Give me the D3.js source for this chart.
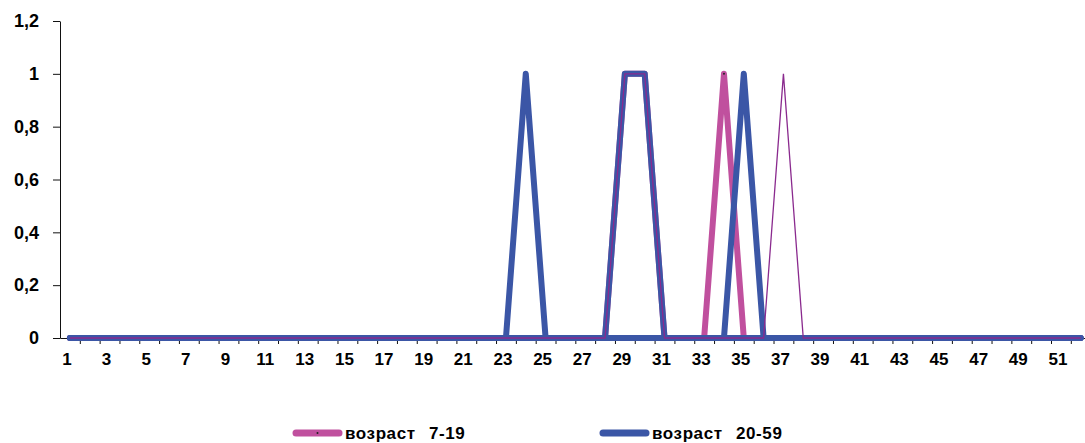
<!DOCTYPE html>
<html>
<head>
<meta charset="utf-8">
<script src="https://cdn.jsdelivr.net/npm/d3@7"></script>
<style>
  html, body { margin: 0; padding: 0; background: #fff; }
  svg { display: block; }
  text { font-family: "Liberation Sans", Arial, sans-serif; fill: #000; }
</style>
</head>
<body>
<svg id="chart" width="1085" height="443"></svg>
<script>
// ---- data ----
const categories = d3.range(1, 53);           // 1..52
const yTicks = [0, 0.2, 0.4, 0.6, 0.8, 1, 1.2];
const xLabelTicks = categories.filter(c => c % 2 === 1);
const seriesNames = ["возраст 7-19", "возраст 20-59"];
// values per category (index 0 = category 1)
const age7to19 = categories.map(c => (c === 29 || c === 30 || c === 34) ? 1 : 0);
const age20to59 = categories.map(c => (c === 24 || c === 29 || c === 30 || c === 35) ? 1 : 0);
const zeroSeries = categories.map(c => 0);                       // thick blue line, no legend entry
const thinSeries = categories.map(c => (c === 29 || c === 30 || c === 37) ? 1 : 0);

// ---- layout ----
const svg = d3.select("#chart");
const plotLeft = 60, plotTop = 21, plotBottom = 338, band = 19.82;
const x = d3.scaleBand().domain(categories).range([plotLeft, plotLeft + band * categories.length]).padding(0);
const xb = d3.scaleLinear().domain([0, categories.length]).range([plotLeft, plotLeft + band * categories.length]);
const y = d3.scaleLinear().domain([0, 1.2]).range([plotBottom, plotTop]);
const cx = c => x(c) + x.bandwidth() / 2;

// x axis (ticks between categories)
const xTickAxis = svg.append("g").attr("transform", `translate(0,${plotBottom})`)
  .call(d3.axisBottom(xb).tickValues(d3.range(1, categories.length + 1)).tickSize(6).tickSizeOuter(0).tickFormat(""));
xTickAxis.selectAll("path,line").attr("stroke", "#111").attr("stroke-width", 1);

const xLabAxis = svg.append("g").attr("transform", `translate(0,${plotBottom + 15})`)
  .call(d3.axisBottom(x).tickValues(xLabelTicks).tickSize(0));
xLabAxis.select(".domain").remove();
xLabAxis.selectAll("text").attr("font-size", 17).attr("font-weight", "bold")
  .attr("font-family", "'Liberation Sans', Arial, sans-serif").attr("dy", "0.71em").attr("y", 0)
  .attr("fill", "#000").attr("transform", "translate(-3,0)");

// y axis
const yAxis = svg.append("g").attr("transform", `translate(${plotLeft},0)`)
  .call(d3.axisLeft(y).tickValues(yTicks).tickSize(7).tickSizeOuter(0)
    .tickFormat(d => String(d).replace(".", ",")));
yAxis.selectAll("path,line").attr("stroke", "#111").attr("stroke-width", 1);
yAxis.selectAll("text").attr("font-size", 18).attr("font-weight", "bold")
  .attr("font-family", "'Liberation Sans', Arial, sans-serif").attr("x", -21).attr("fill", "#000");

// lines
const line = d3.line().x((d, i) => cx(categories[i])).y(d => y(d));

svg.append("path").datum(age7to19).attr("d", line)
  .attr("fill", "none").attr("stroke", "#c0509e").attr("stroke-width", 6)
  .attr("stroke-linejoin", "round").attr("stroke-linecap", "round");
svg.append("g").selectAll("circle").data(age7to19).join("circle")
  .attr("cx", (d, i) => cx(categories[i])).attr("cy", d => y(d)).attr("r", 1)
  .attr("fill", "#222");

svg.append("path").datum(age20to59).attr("d", line)
  .attr("fill", "none").attr("stroke", "#3b56a6").attr("stroke-width", 6)
  .attr("stroke-linejoin", "round").attr("stroke-linecap", "round");

svg.append("path").datum(zeroSeries).attr("d", line)
  .attr("fill", "none").attr("stroke", "#3b56a6").attr("stroke-width", 6)
  .attr("stroke-linejoin", "round").attr("stroke-linecap", "round");

svg.append("path").datum(thinSeries).attr("d", line)
  .attr("fill", "none").attr("stroke", "#8a2a8e").attr("stroke-width", 1.3)
  .attr("stroke-linejoin", "miter");

// legend
const legendColors = ["#c0509e", "#3b56a6"];
const legendX = [296, 603];
const lg = svg.append("g").selectAll("g").data(seriesNames).join("g")
  .attr("transform", (d, i) => `translate(${legendX[i]},433)`);
lg.append("line").attr("x1", 0).attr("x2", 43).attr("y1", 0).attr("y2", 0)
  .attr("stroke", (d, i) => legendColors[i]).attr("stroke-width", 7).attr("stroke-linecap", "round");
lg.filter((d, i) => i === 0).append("circle").attr("cx", 21.5).attr("cy", 0).attr("r", 1).attr("fill", "#222");
lg.append("text").attr("x", 49).attr("y", 6).attr("font-size", 17).attr("font-weight", "bold")
  .attr("letter-spacing", "0.6px").attr("word-spacing", "8px").text(d => d);
</script>
</body>
</html>
